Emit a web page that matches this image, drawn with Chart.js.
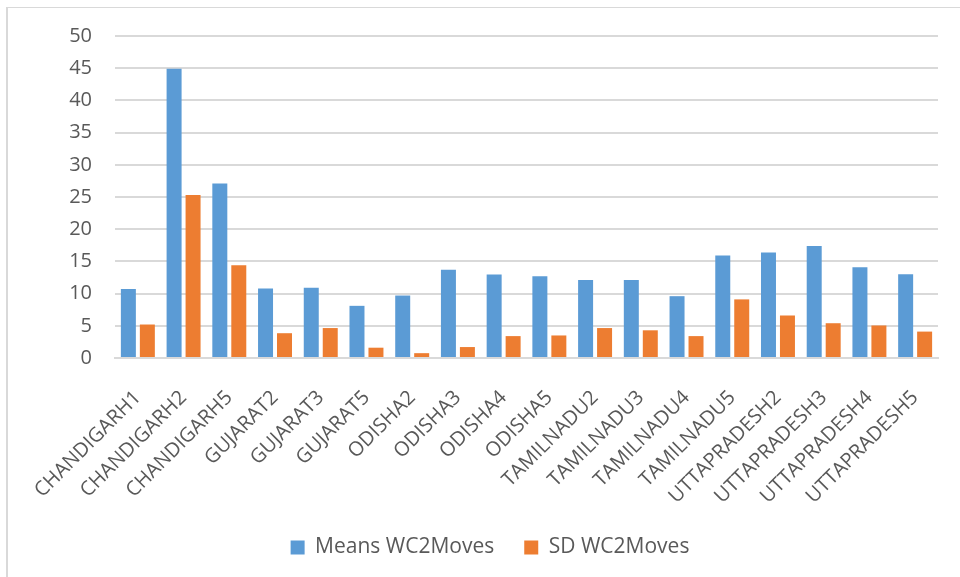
<!DOCTYPE html>
<html>
<head>
<meta charset="utf-8">
<script src="https://cdn.jsdelivr.net/npm/chart.js@4"></script>
<style>
  html, body { margin: 0; padding: 0; background: #fff; }
  #wrap { position: relative; width: 960px; height: 577px; }
  #frame { position: absolute; left: 6px; top: 7px; right: 0; bottom: 0;
           border-left: 2px solid #d9d9d9; border-top: 1px solid #d9d9d9; }
  canvas { position: absolute; left: 0; top: 0; }
</style>
</head>
<body>
<div id="wrap">
  <div id="frame"></div>
  <canvas id="myChart" width="960" height="577"></canvas>
</div>
<script>
const categories = ['CHANDIGARH1', 'CHANDIGARH2', 'CHANDIGARH5', 'GUJARAT2', 'GUJARAT3', 'GUJARAT5',
  'ODISHA2', 'ODISHA3', 'ODISHA4', 'ODISHA5', 'TAMILNADU2', 'TAMILNADU3', 'TAMILNADU4',
  'TAMILNADU5', 'UTTAPRADESH2', 'UTTAPRADESH3', 'UTTAPRADESH4', 'UTTAPRADESH5'];
const meansWC2Moves = [10.7, 44.9, 27.1, 10.8, 10.9, 8.1, 9.7, 13.7, 12.95, 12.7, 12.1, 12.1, 9.6, 15.9, 16.4, 17.4, 14.1, 13.0];
const sdWC2Moves = [5.2, 25.3, 14.4, 3.85, 4.65, 1.6, 0.75, 1.7, 3.4, 3.5, 4.65, 4.3, 3.4, 9.1, 6.6, 5.4, 5.05, 4.1];
const yTicks = [0, 5, 10, 15, 20, 25, 30, 35, 40, 45, 50];

const textColor = '#595959';
const fontFamily = '"Open Sans", "Liberation Sans", sans-serif';

const ctx = document.getElementById('myChart').getContext('2d');
const chart = new Chart(ctx, {
  type: 'bar',
  data: {
    labels: categories,
    datasets: [{
      label: 'Means WC2Moves',
      data: meansWC2Moves,
      backgroundColor: '#5B9BD5',
      barPercentage: 0.79,
      categoryPercentage: 0.83
    }, {
      label: 'SD WC2Moves',
      data: sdWC2Moves,
      backgroundColor: '#ED7D31',
      barPercentage: 0.79,
      categoryPercentage: 0.83
    }]
  },
  options: {
    responsive: false,
    animation: false,
    layout: { padding: { top: 36, right: 22, bottom: 9, left: 42 } },
    plugins: {
      tooltip: { enabled: false },
      legend: {
        position: 'bottom',
        labels: {
          color: textColor,
          font: { family: fontFamily, size: 21 },
          boxWidth: 14,
          boxHeight: 14,
          padding: 30
        }
      }
    },
    scales: {
      x: {
        grid: { display: false },
        border: { color: '#d9d9d9', width: 2 },
        ticks: {
          color: textColor,
          font: { family: fontFamily, size: 20 },
          minRotation: 45,
          maxRotation: 45,
          autoSkip: false,
          padding: 20
        },
        afterFit: scale => { scale.height = 149; }
      },
      y: {
        min: 0,
        max: 50,
        afterBuildTicks: scale => { scale.ticks = yTicks.map(v => ({ value: v })); },
        grid: { color: '#d9d9d9', lineWidth: 2, drawTicks: false },
        border: { display: false },
        ticks: {
          color: textColor,
          font: { family: fontFamily, size: 20 },
          padding: 23
        },
        afterFit: scale => { scale.width = 73; }
      }
    }
  }
});
</script>
</body>
</html>
